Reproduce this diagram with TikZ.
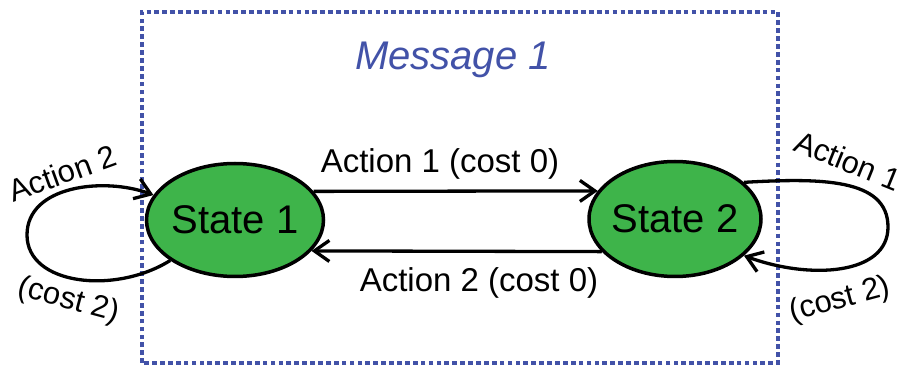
\documentclass[tikz,border=0pt]{standalone}
\usepackage{fontspec}
\setmainfont{Liberation Sans}
\usetikzlibrary{arrows.meta,shapes.geometric}
\definecolor{msgblue}{RGB}{66,82,168}
\definecolor{stategreen}{RGB}{62,180,74}
\begin{document}
\begin{tikzpicture}[x=1pt,y=1pt,
  state/.style={ellipse, draw=black, line width=3.5pt, fill=stategreen,
    inner sep=0pt, font=\fontsize{40}{48}\selectfont},
  conn/.style={line width=3.3pt, -{Straight Barb[length=15pt,width=21pt]}},
  edgelabel/.style={anchor=base, inner sep=0pt, font=\fontsize{33}{40}\selectfont},
  looplabel/.style={anchor=base, inner sep=0pt, font=\fontsize{31}{37}\selectfont},
  msgframe/.style={draw=msgblue, line width=4.6pt, dash pattern=on 4.7pt off 3.2pt},
  titletext/.style={anchor=base, inner sep=0pt, text=msgblue,
    font=\fontsize{40}{48}\selectfont\itshape}]
  \path[use as bounding box] (0,0) rectangle (903,372);

  % message frame and its title
  \draw[msgframe] (142,9) rectangle (778,360);
  \node[titletext] (title) at (453,302) {Message 1};

  % states
  \node[state, minimum width=177pt, minimum height=113pt] (s1) at (235,152) {\makebox[0pt]{State 1}};
  \node[state, minimum width=172pt, minimum height=115pt] (s2) at (675,153) {\makebox[0pt]{State 2}};

  % transitions between the states
  \draw[conn] (s1.20) -- (s2.160);
  \draw[conn] (s2.204) -- (s1.338);
  \node[edgelabel] (l12) at (440,199) {Action 1 (cost 0)};
  \node[edgelabel] (l21) at (479,80) {Action 2 (cost 0)};

  % self loop on State 1
  \coordinate (lw) at (27,137);
  \draw[conn] (s1.212) .. controls (115,77) and (27,87) .. (lw)
                       .. controls (27,187) and (105,195) .. (s1.163);
  \node[looplabel, rotate=20] (la2) at (66,188.5) {Action 2};
  \node[looplabel, rotate=-15] (lc2l) at (66.5,63.4) {(cost 2)};

  % self loop on State 2
  \coordinate (rw) at (888,145);
  \draw[conn] (s2.28) .. controls (820,194) and (888,194) .. (rw)
                      .. controls (888,97) and (810,92) .. (s2.332);
  \node[looplabel, rotate=-22] (la1) at (844,201) {Action 1};
  \node[looplabel, rotate=15] (lc2r) at (842,64) {(cost 2)};
\end{tikzpicture}
\end{document}
